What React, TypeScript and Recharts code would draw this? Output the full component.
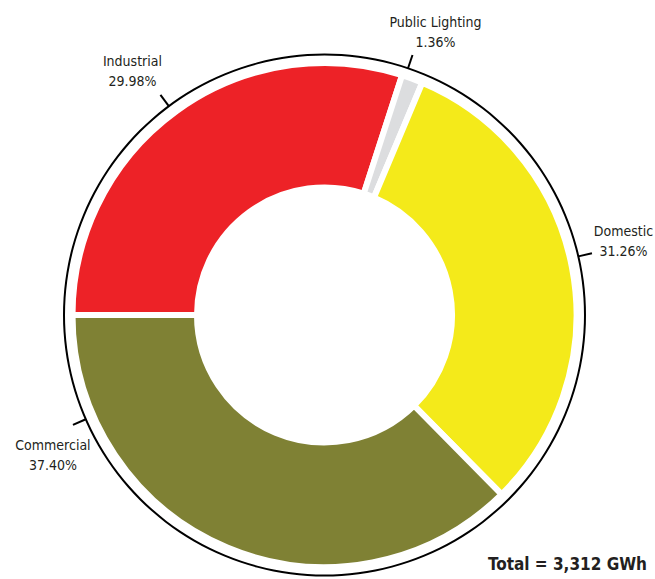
import { PieChart, Pie, Cell } from "recharts"

const categories = ["Industrial", "Public Lighting", "Domestic", "Commercial"]
const shares = [29.98, 1.36, 31.26, 37.4]
const colors = ["#ED2227", "#DCDDDF", "#F4EA1A", "#7F8134"]
const totalLabel = "Total = 3,312 GWh"

const data = categories.map((name, i) => ({ name, value: shares[i] }))
const ring = [{ name: "ring", value: 1 }]

const CX = 324.5
const CY = 315
const RING_R = 260.5
const FONT = "'DejaVu Sans Condensed', 'DejaVu Sans', sans-serif"

// callout placement: tick angle on the outer ring, text offset from the tick end
const callouts = [
  { angle: 126.7, dx: -28, dy: -29 },
  { angle: 71.3, dx: 23, dy: -28 },
  { angle: 13, dx: 31.5, dy: -17 },
  { angle: 203.6, dx: -20, dy: 25 },
]

function renderLabel(props: any) {
  const { index } = props
  const c = callouts[index]
  const rad = Math.PI / 180
  const cos = Math.cos(-c.angle * rad)
  const sin = Math.sin(-c.angle * rad)
  const x1 = CX + RING_R * cos
  const y1 = CY + RING_R * sin
  const x2 = CX + (RING_R + 14) * cos
  const y2 = CY + (RING_R + 14) * sin
  const tx = x2 + c.dx
  const ty = y2 + c.dy
  const textStyle = { fontStretch: "condensed" as const }
  return (
    <g key={`lbl-${index}`}>
      <line x1={x1} y1={y1} x2={x2} y2={y2} stroke="#000" strokeWidth={2} />
      <text x={tx} y={ty} textAnchor="middle" fontSize={14} fill="#231F20" fontFamily={FONT} style={textStyle}>
        {categories[index]}
      </text>
      <text x={tx} y={ty + 20} textAnchor="middle" fontSize={14} fill="#231F20" fontFamily={FONT} style={textStyle}>
        {shares[index].toFixed(2)}%
      </text>
    </g>
  )
}

export default function App() {
  return (
    <div style={{ position: "absolute", left: 0, top: 0, width: 655, height: 579, background: "#fff" }}>
      <PieChart width={655} height={579} margin={{ top: 0, right: 0, bottom: 0, left: 0 }}>
        <Pie
          data={ring}
          dataKey="value"
          cx={CX}
          cy={CY}
          innerRadius={RING_R - 1}
          outerRadius={RING_R + 1}
          startAngle={90}
          endAngle={-270}
          fill="#000"
          stroke="none"
          isAnimationActive={false}
        />
        <Pie
          data={data}
          dataKey="value"
          nameKey="name"
          cx={CX}
          cy={CY}
          innerRadius={127.5}
          outerRadius={252}
          startAngle={180}
          endAngle={-180}
          stroke="#fff"
          strokeWidth={6}
          label={renderLabel}
          labelLine={false}
          isAnimationActive={false}
        >
          {data.map((entry, i) => (
            <Cell key={entry.name} fill={colors[i]} />
          ))}
        </Pie>
      </PieChart>
      <div
        style={{
          position: "absolute",
          right: 8,
          top: 554,
          fontFamily: FONT,
          fontStretch: "condensed",
          fontWeight: "bold",
          fontSize: 17,
          color: "#231F20",
          whiteSpace: "nowrap",
        }}
      >
        {totalLabel}
      </div>
    </div>
  )
}
